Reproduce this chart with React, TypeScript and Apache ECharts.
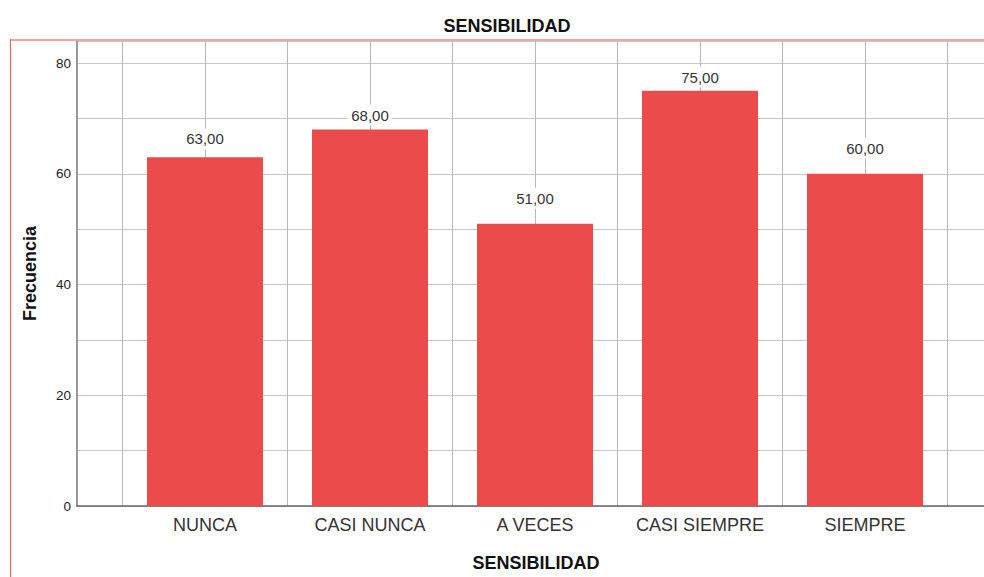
import React, { useEffect, useRef } from "react";
import * as echarts from "echarts";

const categories: string[] = ["NUNCA", "CASI NUNCA", "A VECES", "CASI SIEMPRE", "SIEMPRE"];
const frequencies: number[] = [63, 68, 51, 75, 60];
const yTickLabels: number[] = [0, 20, 40, 60, 80];

const FONT = "'Liberation Sans', Arial, sans-serif";

export default function App() {
  const ref = useRef<HTMLDivElement>(null);

  useEffect(() => {
    if (!ref.current) return;
    const chart = echarts.init(ref.current, undefined, { renderer: "svg" });

    const gridLeft = 77;
    const gridRight = 0;
    const width = 984;
    const plotWidth = width - gridLeft - gridRight;
    const band = 165;
    const firstCenterPx = 205;
    const xMin = 1 - (firstCenterPx - gridLeft) / band;
    const xMax = xMin + plotWidth / band;
    // label gaps above each bar (layout only), as placed in the reference
    const labelGaps = [8, 4, 15, 3, 15];

    const tickVals: number[] = [];
    categories.forEach((_, i) => {
      tickVals.push(i + 0.5, i + 1);
    });
    tickVals.push(categories.length + 0.5);

    const barData = categories.map((_, i) => ({
      value: [i + 1, frequencies[i]],
      label: { distance: labelGaps[i] },
    }));

    chart.setOption({
      animation: false,
      textStyle: { fontFamily: FONT },
      title: {
        text: "SENSIBILIDAD",
        left: 502,
        top: 12,
        textAlign: "center",
        textStyle: { fontFamily: FONT, fontSize: 18, fontWeight: "bold", color: "#111" },
      },
      grid: { left: gridLeft, right: gridRight, top: 41, bottom: 70, containLabel: false },
      xAxis: {
        type: "value",
        min: xMin,
        max: xMax,
        name: "SENSIBILIDAD",
        nameLocation: "middle",
        nameGap: 48,
        nameTextStyle: { fontFamily: FONT, fontSize: 18, fontWeight: "bold", color: "#111", padding: [0, 0, 0, 11] },
        axisLine: { show: true, lineStyle: { color: "#666", width: 1.5 } },
        axisTick: { show: false, customValues: tickVals },
        axisLabel: {
          customValues: categories.map((_, i) => i + 1),
          formatter: (v: number) => categories[Math.round(v) - 1] ?? "",
          fontFamily: FONT,
          fontSize: 18,
          color: "#333",
          margin: 10,
        },
        splitLine: { show: true, lineStyle: { color: "#b8b8b8", width: 1 } },
      },
      yAxis: {
        type: "value",
        min: 0,
        max: 84,
        interval: 10,
        name: "Frecuencia",
        nameLocation: "middle",
        nameGap: 38,
        nameTextStyle: { fontFamily: FONT, fontSize: 18, fontWeight: "bold", color: "#111" },
        axisLine: { show: true, lineStyle: { color: "#999", width: 2 } },
        axisTick: { show: false },
        axisLabel: {
          fontFamily: FONT,
          fontSize: 13.5,
          color: "#222",
          margin: 6,
          formatter: (v: number) => (yTickLabels.includes(v) ? String(v) : ""),
        },
        splitLine: { show: true, lineStyle: { color: "#c8c8c8", width: 1 } },
      },
      series: [
        {
          type: "bar",
          data: barData,
          barWidth: 116,
          itemStyle: { color: "#EC4B4C" },
          label: {
            show: true,
            position: "top",
            distance: 9,
            formatter: (p: any) => Number(p.value[1]).toFixed(2).replace(".", ","),
            fontFamily: FONT,
            fontSize: 15,
            color: "#333",
            backgroundColor: "#fff",
            padding: [3, 3, 3, 3],
          },
        },
      ],
      graphic: [
        {
          type: "line",
          shape: { x1: 10, y1: 40, x2: 984, y2: 40 },
          style: { stroke: "#f6a3a3", lineWidth: 2 },
          z: 100,
        },
        {
          type: "line",
          shape: { x1: 10.5, y1: 39, x2: 10.5, y2: 577 },
          style: { stroke: "#f05858", lineWidth: 1 },
          z: 100,
        },
      ],
    });

    return () => chart.dispose();
  }, []);

  return (
    <div
      ref={ref}
      style={{ position: "absolute", left: 0, top: 0, width: 984, height: 577, background: "#fff" }}
    />
  );
}
